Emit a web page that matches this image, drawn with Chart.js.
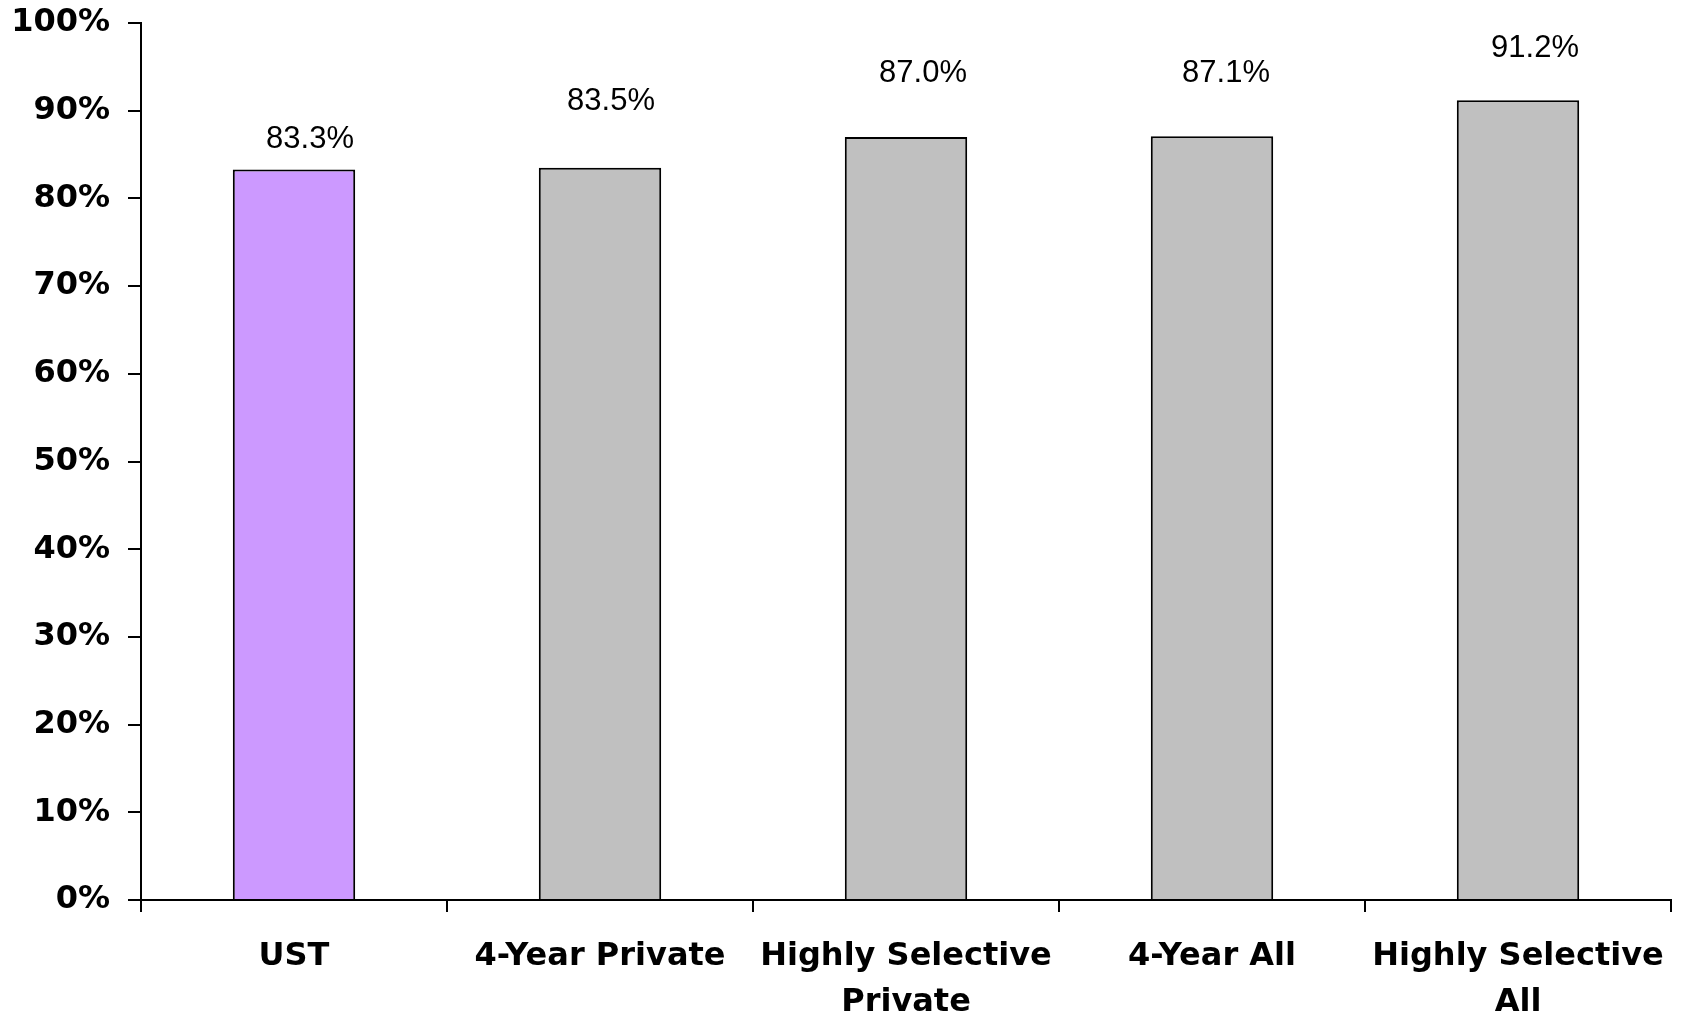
<!DOCTYPE html>
<html>
<head>
<meta charset="utf-8">
<script src="https://cdn.jsdelivr.net/npm/chart.js@4/dist/chart.umd.min.js"></script>
<style>
  html, body { margin: 0; padding: 0; background: #fff; }
  #gradChart { display: block; }
</style>
</head>
<body>
<canvas id="gradChart" width="1683" height="1022"></canvas>
<script>
const categories = ['UST', '4-Year Private', ['Highly Selective', 'Private'], '4-Year All', ['Highly Selective', 'All']];
const rates = [83.3, 83.5, 87.0, 87.1, 91.2];
const yTicks = [0, 10, 20, 30, 40, 50, 60, 70, 80, 90, 100];

const barColors = ['#CC99FF', '#C0C0C0', '#C0C0C0', '#C0C0C0', '#C0C0C0'];
// value labels sit a little right of centre and at differing heights above each bar
const labelShift = [[16, -30], [11, -66], [17, -64], [14, -63], [17, -52]];

const boldFont = { family: '"DejaVu Sans", sans-serif', size: 32, weight: 'bold' };

const valueLabels = {
  id: 'valueLabels',
  afterDatasetsDraw(chart) {
    const ctx = chart.ctx;
    const meta = chart.getDatasetMeta(0);
    ctx.save();
    ctx.font = '31px "Liberation Sans", Arial, sans-serif';
    ctx.fillStyle = '#000';
    ctx.textAlign = 'center';
    ctx.textBaseline = 'middle';
    meta.data.forEach((bar, i) => {
      const [dx, dy] = labelShift[i];
      ctx.fillText(rates[i].toFixed(1) + '%', bar.x + dx, bar.y + dy);
    });
    ctx.restore();
  }
};

new Chart(document.getElementById('gradChart'), {
  type: 'bar',
  data: {
    labels: categories,
    datasets: [{
      data: rates,
      backgroundColor: barColors,
      borderColor: '#000',
      borderWidth: 2,
      borderSkipped: 'bottom',
      barPercentage: 0.4,
      categoryPercentage: 1.0
    }]
  },
  options: {
    responsive: false,
    animation: false,
    events: [],
    layout: { padding: { left: 0, right: 12, top: 23, bottom: 0 } },
    plugins: {
      legend: { display: false },
      tooltip: { enabled: false }
    },
    scales: {
      x: {
        grid: {
          offset: true,
          drawOnChartArea: false,
          color: '#000',
          lineWidth: 2,
          tickLength: 12
        },
        border: { color: '#000', width: 2 },
        ticks: {
          color: '#000',
          font: { ...boldFont, lineHeight: 1.45 },
          padding: 21,
          maxRotation: 0,
          autoSkip: false
        },
        afterFit(scale) {
          scale.height = 122;
          scale.paddingLeft = 0;
          scale.paddingRight = 0;
        }
      },
      y: {
        min: 0,
        max: 100,
        afterBuildTicks(scale) { scale.ticks = yTicks.map(v => ({ value: v })); },
        grid: {
          drawOnChartArea: false,
          color: '#000',
          lineWidth: 2,
          tickLength: 13
        },
        border: { color: '#000', width: 2 },
        ticks: {
          color: '#000',
          font: boldFont,
          padding: 18,
          callback: v => v + '%'
        },
        afterFit(scale) {
          scale.width = 141;
          scale.paddingTop = 0;
          scale.paddingBottom = 0;
        }
      }
    }
  },
  plugins: [valueLabels]
});
</script>
</body>
</html>
